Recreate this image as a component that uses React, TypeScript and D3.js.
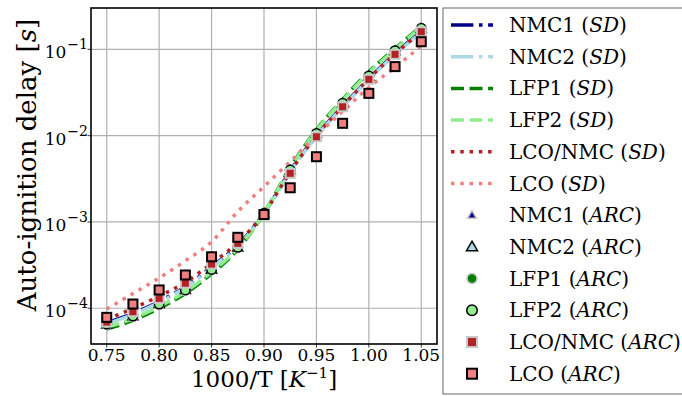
import React from "react";
import * as d3 from "d3";

// 1000/T values
const xValues = [0.75, 0.775, 0.8, 0.825, 0.85, 0.875, 0.9, 0.925, 0.95, 0.975, 1.0, 1.025, 1.05];

// SD (lines), auto-ignition delay in s
const nmc1SD = [6.76e-5, 8.71e-5, 1.2e-4, 1.78e-4, 3.02e-4, 5.37e-4, 1.26e-3, 3.89e-3, 1.0e-2, 2.19e-2, 4.57e-2, 8.91e-2, 0.162];
const nmc2SD = [6.61e-5, 8.51e-5, 1.17e-4, 1.74e-4, 2.95e-4, 5.25e-4, 1.23e-3, 3.8e-3, 9.77e-3, 2.14e-2, 4.47e-2, 8.71e-2, 0.158];
const lfp1SD = [5.75e-5, 7.24e-5, 1.0e-4, 1.48e-4, 2.51e-4, 4.79e-4, 1.26e-3, 4.27e-3, 1.17e-2, 2.63e-2, 5.5e-2, 0.102, 0.186];
const lfp2SD = [6.03e-5, 7.59e-5, 1.05e-4, 1.55e-4, 2.63e-4, 4.9e-4, 1.26e-3, 4.17e-3, 1.15e-2, 2.57e-2, 5.37e-2, 0.1, 0.182];
const lcoNmcSD = [7.41e-5, 1.0e-4, 1.38e-4, 2.0e-4, 3.31e-4, 5.75e-4, 1.26e-3, 3.8e-3, 1.0e-2, 2.19e-2, 4.57e-2, 8.91e-2, 0.158];
const lcoSD = [9.77e-5, 1.48e-4, 2.24e-4, 3.55e-4, 5.89e-4, 1.32e-3, 2.57e-3, 5.01e-3, 1.0e-2, 1.91e-2, 3.63e-2, 6.17e-2, 0.11];

// ARC (markers)
const nmc1ARC = [6.6e-5, 8.2e-5, 1.13e-4, 1.65e-4, 2.85e-4, 5.1e-4, 1.25e-3, 3.9e-3, 1.03e-2, 2.3e-2, 4.8e-2, 9.3e-2, 0.17];
const nmc2ARC = [6.5e-5, 8.1e-5, 1.12e-4, 1.63e-4, 2.8e-4, 5.05e-4, 1.24e-3, 3.95e-3, 1.05e-2, 2.35e-2, 4.85e-2, 9.5e-2, 0.172];
const lfp1ARC = [6.4e-5, 7.9e-5, 1.09e-4, 1.59e-4, 2.75e-4, 4.98e-4, 1.23e-3, 3.9e-3, 1.04e-2, 2.32e-2, 4.8e-2, 9.4e-2, 0.171];
const lfp2ARC = [6.56e-5, 8.13e-5, 1.12e-4, 1.63e-4, 2.82e-4, 5.08e-4, 1.26e-3, 3.99e-3, 1.06e-2, 2.37e-2, 4.91e-2, 9.64e-2, 0.175];
const lcoNmcARC = [6.92e-5, 9.12e-5, 1.3e-4, 1.95e-4, 3.25e-4, 5.65e-4, 1.2e-3, 3.66e-3, 9.7e-3, 2.16e-2, 4.49e-2, 8.75e-2, 0.16];
const lcoARC = [7.85e-5, 1.12e-4, 1.63e-4, 2.43e-4, 3.95e-4, 6.64e-4, 1.22e-3, 2.49e-3, 5.7e-3, 1.39e-2, 3.09e-2, 6.31e-2, 0.1225];

const xTicks = [0.75, 0.8, 0.85, 0.9, 0.95, 1.0, 1.05];
const yTicks = [1e-4, 1e-3, 1e-2, 1e-1];
const yTickExp = ["−4", "−3", "−2", "−1"];

const lineNames = ["NMC1", "NMC2", "LFP1", "LFP2", "LCO/NMC", "LCO"];
const markerNames = ["NMC1", "NMC2", "LFP1", "LFP2", "LCO/NMC", "LCO"];

const W = 682, H = 396;
const L = 91, R = 437, T = 8, B = 344;

const x = d3.scaleLinear().domain([0.735, 1.065]).range([L, R]);
const y = d3.scaleLog().domain([Math.pow(10, -4.414), Math.pow(10, -0.521)]).range([B, T]);

const LW = 3.5;
const lineStyles = [
  { data: nmc1SD, color: "#00008b", dash: [6.4, 1.6, 1, 1.6].map(v => v * LW).join(" "), w: LW },
  { data: nmc2SD, color: "#add8e6", dash: [6.4, 1.6, 1, 1.6].map(v => v * LW).join(" "), w: LW },
  { data: lfp1SD, color: "#008000", dash: [3.7, 1.6].map(v => v * LW).join(" "), w: LW },
  { data: lfp2SD, color: "#90ee90", dash: [3.7, 1.6].map(v => v * LW).join(" "), w: LW },
  { data: lcoNmcSD, color: "#b22222", dash: [1, 1.65].map(v => v * LW).join(" "), w: LW },
  { data: lcoSD, color: "#f08080", dash: [1, 1.65].map(v => v * LW).join(" "), w: LW },
];

type Mk = { data: number[]; shape: string; fill: string; stroke: string; sw: number; s: number };
const markerStyles: Mk[] = [
  { data: nmc1ARC, shape: "tri", fill: "#00008b", stroke: "#c8c8c8", sw: 1.5, s: 8 },
  { data: nmc2ARC, shape: "tri", fill: "#add8e6", stroke: "#000", sw: 1.5, s: 10 },
  { data: lfp1ARC, shape: "circle", fill: "#008000", stroke: "#c8c8c8", sw: 1.5, s: 9 },
  { data: lfp2ARC, shape: "circle", fill: "#90ee90", stroke: "#000", sw: 1.5, s: 9.5 },
  { data: lcoNmcARC, shape: "square", fill: "#b22222", stroke: "#c8c8c8", sw: 2, s: 9 },
  { data: lcoARC, shape: "square", fill: "#f08080", stroke: "#000", sw: 2, s: 9 },
];

function Marker({ cx, cy, m }: { cx: number; cy: number; m: Mk }) {
  const s = m.s;
  if (m.shape === "circle") return <circle cx={cx} cy={cy} r={s / 2} fill={m.fill} stroke={m.stroke} strokeWidth={m.sw} />;
  if (m.shape === "square") return <rect x={cx - s / 2} y={cy - s / 2} width={s} height={s} fill={m.fill} stroke={m.stroke} strokeWidth={m.sw} />;
  const h = s * 0.87;
  const p = `M${cx},${cy - h * 0.6}L${cx + s / 2},${cy + h * 0.4}L${cx - s / 2},${cy + h * 0.4}Z`;
  return <path d={p} fill={m.fill} stroke={m.stroke} strokeWidth={m.sw} strokeLinejoin="miter" />;
}

const serif = "'DejaVu Serif', serif";

export default function App() {
  const line = d3.line<number>()
    .x((_, i) => x(xValues[i]))
    .y(d => y(d))
    .curve(d3.curveMonotoneX);

  const rowY = (i: number) => 25 + i * 31.7;

  return (
    <svg width={W} height={H} style={{ position: "absolute", left: 0, top: 0, background: "#fff" }}>
      <defs>
        <clipPath id="plot"><rect x={L} y={T} width={R - L} height={B - T} /></clipPath>
      </defs>
      <rect x={0} y={0} width={W} height={H} fill="#fff" />
      {/* grid */}
      <g stroke="#b0b0b0" strokeWidth={1.2}>
        {xTicks.map(t => <line key={"gx" + t} x1={x(t)} x2={x(t)} y1={T} y2={B} />)}
        {yTicks.map(t => <line key={"gy" + t} x1={L} x2={R} y1={y(t)} y2={y(t)} />)}
      </g>
      {/* lines */}
      <g clipPath="url(#plot)" fill="none">
        {lineStyles.map((ls, i) => (
          <path key={"l" + i} d={line(ls.data) || ""} stroke={ls.color} strokeWidth={ls.w} strokeDasharray={ls.dash} />
        ))}
      </g>
      {/* markers */}
      <g clipPath="url(#plot)">
        {markerStyles.map((m, i) => (
          <g key={"m" + i}>
            {m.data.map((v, j) => <Marker key={j} cx={x(xValues[j])} cy={y(v)} m={m} />)}
          </g>
        ))}
      </g>
      {/* frame */}
      <rect x={L} y={T} width={R - L} height={B - T} fill="none" stroke="#000" strokeWidth={1.6} />
      {/* x ticks */}
      {xTicks.map(t => (
        <g key={"xt" + t}>
          <line x1={x(t)} x2={x(t)} y1={B} y2={B + 3.5} stroke="#000" strokeWidth={0.8} />
          <text x={x(t)} y={361} textAnchor="middle" fontFamily={serif} fontSize={17}>{t.toFixed(2)}</text>
        </g>
      ))}
      {/* y ticks */}
      {yTicks.map((t, i) => (
        <g key={"yt" + t}>
          <line x1={L - 3.5} x2={L} y1={y(t)} y2={y(t)} stroke="#000" strokeWidth={0.8} />
          <text x={88} y={y(t) + 9} textAnchor="end" fontFamily={serif} fontSize={17}>
            <tspan>10</tspan>
            <tspan dx={1} dy={-9} fontSize={14}>{yTickExp[i]}</tspan>
          </text>
        </g>
      ))}
      {/* axis labels */}
      <text x={(L + R) / 2} y={387} textAnchor="middle" fontFamily={serif} fontSize={23}>
        <tspan>1000/T [</tspan>
        <tspan fontStyle="italic">K</tspan>
        <tspan dy={-9} fontSize={15}>−1</tspan>
        <tspan dy={9}>]</tspan>
      </text>
      <text transform={`translate(36,165) rotate(-90)`} textAnchor="middle" fontFamily={serif} fontSize={26}>
        <tspan>Auto-ignition delay [</tspan>
        <tspan fontStyle="italic">s</tspan>
        <tspan>]</tspan>
      </text>
      {/* legend */}
      <rect x={443} y={8} width={260} height={386} fill="#fff" stroke="#666" strokeWidth={1} />
      {lineStyles.map((ls, i) => (
        <g key={"lg" + i}>
          <line x1={451} x2={493} y1={rowY(i)} y2={rowY(i)} stroke={ls.color} strokeWidth={ls.w} strokeDasharray={ls.dash} />
          <text x={509} y={rowY(i) + 7} fontFamily={serif} fontSize={20}>
            <tspan>{lineNames[i]} (</tspan>
            <tspan fontStyle="italic">SD</tspan>
            <tspan>)</tspan>
          </text>
        </g>
      ))}
      {markerStyles.map((m, i) => (
        <g key={"lm" + i}>
          <Marker cx={472} cy={rowY(i + 6)} m={{ ...m, s: m.s + 1 }} />
          <text x={509} y={rowY(i + 6) + 7} fontFamily={serif} fontSize={20}>
            <tspan>{markerNames[i]} (</tspan>
            <tspan fontStyle="italic">ARC</tspan>
            <tspan>)</tspan>
          </text>
        </g>
      ))}
    </svg>
  );
}
